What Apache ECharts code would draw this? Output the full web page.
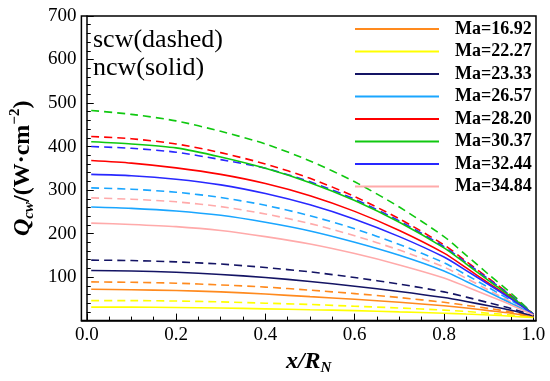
<!DOCTYPE html>
<html>
<head>
<meta charset="utf-8">
<script src="https://cdn.jsdelivr.net/npm/echarts@6/dist/echarts.min.js"></script>
<style>html,body{margin:0;padding:0;background:#fff;}#c{width:550px;height:381px;}</style>
</head>
<body>
<div id="c"></div>
<script>
// x positions (x/R_N)
const xs = [0.01, 0.1, 0.2, 0.3, 0.4, 0.5, 0.6, 0.7, 0.8, 0.85, 0.9, 0.95, 1.0];
const machLabels = ['Ma=16.92', 'Ma=22.27', 'Ma=23.33', 'Ma=26.57', 'Ma=28.20', 'Ma=30.37', 'Ma=32.44', 'Ma=34.84'];
const colors = ['#ff8a1e', '#ffff00', '#141464', '#1aa6ff', '#ff0000', '#10c810', '#2828ff', '#ffaaaa'];
// ncw (solid)
const ncw_1692 = [72, 71, 69, 66, 61, 55, 49, 42, 34, 29, 23, 17, 9];
const ncw_2227 = [31, 31, 30, 29, 27, 25, 23, 20, 17, 15, 13, 10, 7];
const ncw_2333 = [115, 114, 111, 106, 99, 90, 79, 67, 53, 44, 34, 24, 11];
const ncw_2657 = [261, 258, 252, 242, 226, 206, 180, 150, 114, 90, 65, 40, 14];
const ncw_2820 = [368, 362, 351, 336, 315, 287, 251, 207, 155, 121, 86, 52, 15];
const ncw_3037 = [411, 406, 397, 376, 350, 317, 276, 226, 167, 130, 92, 55, 15];
const ncw_3244 = [336, 333, 325, 312, 292, 266, 233, 193, 146, 115, 83, 50, 15];
const ncw_3484 = [224, 221, 216, 207, 193, 176, 154, 128, 98, 78, 57, 36, 13];
// scw (dashed)
const scw_1692 = [89, 88, 86, 82, 77, 70, 62, 53, 42, 35, 28, 20, 10];
const scw_2227 = [46, 46, 45, 43, 40, 37, 33, 29, 24, 21, 17, 13, 8];
const scw_2333 = [139, 138, 135, 130, 122, 112, 99, 84, 66, 54, 41, 28, 12];
const scw_2657 = [305, 302, 295, 283, 265, 241, 211, 175, 133, 105, 76, 46, 15];
const scw_2820 = [423, 418, 406, 386, 360, 327, 285, 234, 174, 136, 97, 58, 15];
const scw_3037 = [483, 474, 459, 435, 406, 367, 319, 261, 193, 150, 106, 63, 15];
const scw_3244 = [400, 396, 387, 370, 350, 319, 279, 229, 170, 133, 95, 57, 15];
const scw_3484 = [282, 279, 273, 262, 245, 223, 195, 162, 123, 97, 70, 43, 14];
// tick values
const xMajorTicks = [0, 0.2, 0.4, 0.6, 0.8, 1.0];
const xMinorTicks = [0.05, 0.1, 0.15, 0.25, 0.3, 0.35, 0.45, 0.5, 0.55, 0.65, 0.7, 0.75, 0.85, 0.9, 0.95];

const ncwAll = [ncw_1692, ncw_2227, ncw_2333, ncw_2657, ncw_2820, ncw_3037, ncw_3244, ncw_3484];
const scwAll = [scw_1692, scw_2227, scw_2333, scw_2657, scw_2820, scw_3037, scw_3244, scw_3484];

const FONT = '"Liberation Serif", "Times New Roman", serif';
const series = [];
function pairs(arr) { return xs.map((x, i) => [x, arr[i]]); }
machLabels.forEach((name, k) => {
  series.push({
    name: name + ' scw', type: 'line', data: pairs(scwAll[k]), showSymbol: false, symbol: 'none',
    smooth: 0.25, silent: true,
    lineStyle: { color: colors[k], width: 1.6, type: [8, 5] }, itemStyle: { color: colors[k] }
  });
});
machLabels.forEach((name, k) => {
  series.push({
    name: name, type: 'line', data: pairs(ncwAll[k]), showSymbol: false, symbol: 'none',
    smooth: 0.25, silent: true,
    lineStyle: { color: colors[k], width: 1.6 }, itemStyle: { color: colors[k] }
  });
});

const chart = echarts.init(document.getElementById('c'), null, { renderer: 'canvas' });
chart.setOption({
  animation: false,
  backgroundColor: '#fff',
  grid: { left: 70, right: 14, top: 16, bottom: 43, show: true, borderColor: '#000', borderWidth: 1.5, backgroundColor: 'transparent' },
  legend: {
    data: machLabels, orient: 'vertical', left: 355, top: 20, padding: 0,
    icon: 'rect', itemWidth: 84, itemHeight: 2, itemGap: 4.5,
    textStyle: { fontFamily: FONT, fontWeight: 'bold', fontSize: 18, color: '#000', lineHeight: 18, padding: [0, 0, 0, 11] }
  },
  xAxis: [{
    type: 'value', min: -0.012, max: 1.006,
    axisLine: { show: true, onZero: false, lineStyle: { color: '#000', width: 1.5 } },
    axisTick: { show: true, inside: true, length: 7, customValues: xMajorTicks, lineStyle: { color: '#000', width: 1 } },
    axisLabel: { customValues: xMajorTicks, formatter: v => v.toFixed(1), fontFamily: FONT, fontSize: 19, color: '#000', margin: 5 },
    splitLine: { show: false },
    name: '{i|x/R}{sub|N}', nameLocation: 'middle', nameGap: 2,
    nameTextStyle: {
      rich: {
        i: { fontFamily: FONT, fontWeight: 'bold', fontStyle: 'italic', fontSize: 24, color: '#000' },
        sub: { fontFamily: FONT, fontWeight: 'bold', fontStyle: 'italic', fontSize: 15, color: '#000', padding: [14, 0, 0, 0] }
      }
    }
  }, {
    type: 'value', min: -0.012, max: 1.006, position: 'bottom',
    axisLine: { show: false },
    axisTick: { show: true, inside: true, length: 4, customValues: xMinorTicks, lineStyle: { color: '#000', width: 1 } },
    axisLabel: { show: false }, splitLine: { show: false }
  }],
  yAxis: {
    type: 'value', min: 0, max: 700, interval: 100,
    axisLine: { show: true, lineStyle: { color: '#000', width: 1.5 } },
    axisTick: { show: true, inside: true, length: 7, lineStyle: { color: '#000', width: 1 } },
    minorTick: { show: true, splitNumber: 5, length: 4, lineStyle: { color: '#000', width: 1 } },
    axisLabel: { formatter: v => (v === 0 ? '' : String(v)), fontFamily: FONT, fontSize: 19, color: '#000', margin: 5 },
    splitLine: { show: false },
    name: '{q|Q}{sub|cw}{n|/(W·cm}{sup|−2}{n|)}', nameLocation: 'middle', nameGap: 38, nameRotate: 90,
    nameTextStyle: {
      rich: {
        q: { fontFamily: FONT, fontWeight: 'bold', fontStyle: 'italic', fontSize: 24, color: '#000' },
        sub: { fontFamily: FONT, fontWeight: 'bold', fontStyle: 'italic', fontSize: 15, color: '#000', padding: [14, 0, 0, 0] },
        n: { fontFamily: FONT, fontWeight: 'bold', fontSize: 24, color: '#000' },
        sup: { fontFamily: FONT, fontWeight: 'bold', fontSize: 15, color: '#000', padding: [0, 0, 14, 0] }
      }
    }
  },
  graphic: [
    { type: 'text', left: 93, top: 27, style: { text: 'scw(dashed)', font: '26px ' + FONT, fill: '#000' } },
    { type: 'text', left: 93, top: 55, style: { text: 'ncw(solid)', font: '26px ' + FONT, fill: '#000' } }
  ],
  series: series
});
</script>
</body>
</html>
